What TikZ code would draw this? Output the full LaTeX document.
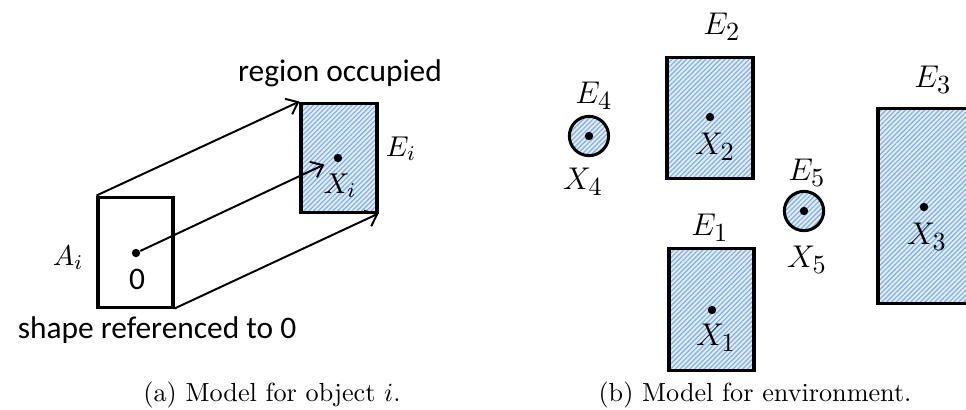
\documentclass[tikz,border=0pt]{standalone}
\usepackage{fontspec}
\setsansfont{Carlito}
\usetikzlibrary{arrows.meta,patterns.meta,fit}
\DeclareMathSizes{11}{11}{8.5}{7}
\DeclareMathSizes{13}{13}{10}{8}
\definecolor{hatchbg}{RGB}{228,238,250}
\definecolor{hatchln}{RGB}{135,178,228}
\tikzset{
  hatch/.style={preaction={fill=hatchbg},
    preaction={pattern={Lines[angle=45,distance=1.3pt,line width=0.5pt]},pattern color=hatchln}},
  objbox/.style={draw,line width=1.15pt,inner sep=0pt},
  arr/.style={line width=0.75pt,-{Straight Barb[length=4pt,width=6.5pt,line width=0.75pt]}},
  pt/.style={circle,fill=black,inner sep=0pt,minimum size=3.2pt},
  txt/.style={font=\sffamily\fontsize{12}{14}\selectfont,inner sep=0pt},
  mlab/.style={font=\fontsize{11}{13}\selectfont,inner sep=0pt},
  rlab/.style={font=\fontsize{13}{15}\selectfont,inner sep=0pt},
  captxt/.style={font=\fontsize{10}{12}\selectfont,inner sep=0pt}
}
\begin{document}
\begin{tikzpicture}[x=0.382pt,y=-0.382pt]
\clip (0,0) rectangle (966,409);
% ---------- (a) ----------
\node[objbox,fit={(98,197) (173,307)}] (A) {};
\node[objbox,hatch,fit={(301,103) (377,212)}] (Ei) {};
\node[pt] (o) at (136,253) {};
\node[pt] (xi) at (338,158) {};
\draw[arr] (A.north west) -- (Ei.north west);
\draw[arr] (A.south east) -- (Ei.south east);
\draw[arr,shorten >=4pt] (o) -- (xi);
\node[txt] (zero) at (137,279) {0};
\node[mlab] (Ai) at (68,258) {$A_i$};
\node[mlab] (Xi) at (340,186) {$X_i$};
\node[mlab] (Eil) at (401,149) {$E_i$};
\node[txt] (reg) at (340,73) {region occupied};
\node[txt] (shp) at (157,330) {shape referenced to 0};
\node[captxt] (capa) at (272,395) {(a) Model for object $i$.};
% ---------- (b) ----------
\node[objbox,hatch,fit={(667,57) (753,178)}] (E2) {};
\node[objbox,hatch,fit={(669,248) (754,370)}] (E1) {};
\node[objbox,hatch,fit={(878,108) (985,303)}] (E3) {};
\node[objbox,hatch,circle,inner sep=0pt,minimum size=15pt] (E4) at (589,136) {};
\node[objbox,hatch,circle,inner sep=0pt,minimum size=15pt] (E5) at (804,211) {};
\node[pt] (x2) at (710,117) {};
\node[pt] (x1) at (712,310) {};
\node[pt] (x3) at (924,207) {};
\node[pt] (x4) at (589,136) {};
\node[pt] (x5) at (804,211) {};
\node[rlab] (E2l) at (722,27) {$E_2$};
\node[rlab] (X2l) at (715,147) {$X_2$};
\node[rlab] (E1l) at (710,228) {$E_1$};
\node[rlab] (X1l) at (716,338) {$X_1$};
\node[rlab] (E3l) at (933,80) {$E_3$};
\node[rlab] (X3l) at (927,237) {$X_3$};
\node[rlab] (E4l) at (594,96) {$E_4$};
\node[rlab] (X4l) at (583,182) {$X_4$};
\node[rlab] (E5l) at (807,173) {$E_5$};
\node[rlab] (X5l) at (807,260) {$X_5$};
\node[captxt] (capb) at (755,395) {(b) Model for environment.};
\end{tikzpicture}
\end{document}
